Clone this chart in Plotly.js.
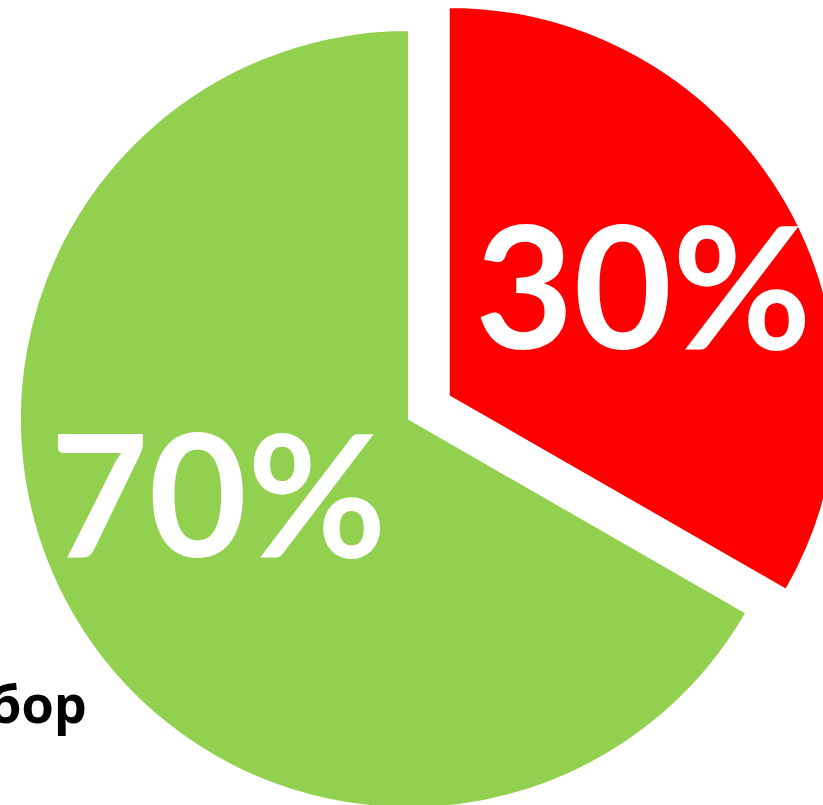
<!DOCTYPE html>
<html>
<head>
<meta charset="utf-8">
<script src="https://cdn.plot.ly/plotly-3.0.1.min.js"></script>
<style>
html,body{margin:0;padding:0;width:823px;height:805px;overflow:hidden;background:#fff;}
#chart{position:absolute;left:-26px;top:-16px;width:870px;height:870px;}
</style>
</head>
<body>
<div id="chart"></div>
<script>
// Data
var categories = ['A', 'B'];
var sliceShares = [33.3, 66.7];       // angular share as drawn
var sliceLabels = ['30%', '70%'];     // labels printed on the slices
var sliceColors = ['#FF0000', '#92D050'];
var captionText = 'бор';

// label anchor positions (paper fractions of the 870px plot box)
var labelPos = [
  {x: 669 / 870, y: 1 - 299 / 870},
  {x: 244 / 870, y: 1 - 507 / 870}
];

var trace = {
  type: 'pie',
  labels: categories,
  values: sliceShares,
  textinfo: 'none',
  sort: false,
  direction: 'clockwise',
  rotation: 0,
  pull: [0.118, 0],
  marker: {colors: sliceColors, line: {color: '#ffffff', width: 2}},
  hoverinfo: 'none',
  showlegend: false
};

var annotations = sliceLabels.map(function (t, i) {
  return {
    text: '<b>' + t + '</b>',
    xref: 'paper', yref: 'paper',
    x: labelPos[i].x, y: labelPos[i].y,
    xanchor: 'center', yanchor: 'middle',
    showarrow: false,
    font: {family: 'Lato, "Open Sans", sans-serif', size: 170, color: '#ffffff'}
  };
});

annotations.push({
  text: '<b>' + captionText + '</b>',
  xref: 'paper', yref: 'paper',
  x: 13 / 870, y: 1 - 756 / 870,
  xanchor: 'left', yanchor: 'bottom',
  showarrow: false,
  font: {family: '"Noto Sans", "Open Sans", sans-serif', size: 52, color: '#000000'}
});

var layout = {
  width: 870,
  height: 870,
  margin: {l: 0, r: 0, t: 0, b: 0, pad: 0},
  paper_bgcolor: '#ffffff',
  showlegend: false,
  annotations: annotations
};

Plotly.newPlot('chart', [trace], layout, {staticPlot: true, displayModeBar: false});
</script>
</body>
</html>
